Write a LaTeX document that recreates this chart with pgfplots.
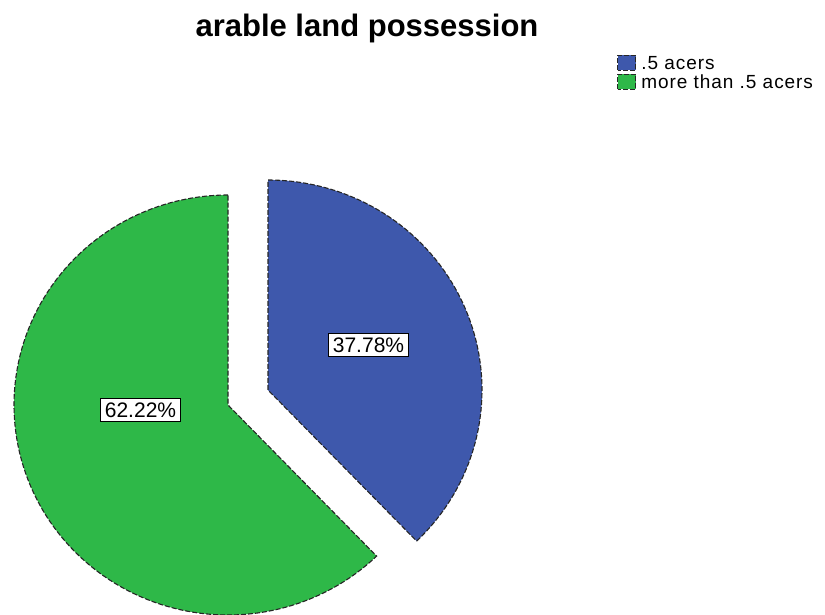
\documentclass[border=0pt]{standalone}
\usepackage{pgfplots}
\pgfplotsset{compat=1.18}
\usepackage{pgfplotstable}
\usepackage{fontspec}
\setmainfont{Liberation Sans}
\newfontfamily\legfont[LetterSpace=5]{Liberation Sans}
\definecolor{sliceblue}{RGB}{62,88,172}
\definecolor{slicegreen}{RGB}{46,184,72}

\pgfplotstableread{
label value
a 37.78
b 62.22
}\piedata
\pgfplotstablegetelem{0}{value}\of\piedata \edef\va{\pgfplotsretval}
\pgfplotstablegetelem{1}{value}\of\piedata \edef\vb{\pgfplotsretval}
\pgfmathsetmacro{\aend}{90-3.6*\va}
\pgfmathsetmacro{\gend}{90+3.6*\vb}

\begin{document}
\begin{tikzpicture}
\begin{axis}[
  scale only axis, width=825bp, height=615bp,
  xmin=0, xmax=825, ymin=0, ymax=615, y dir=reverse,
  hide axis, clip=false,
  legend style={at={(0.7479,0.9122)}, anchor=north west, draw=none, fill=none,
    font=\legfont\fontsize{19bp}{19bp}\selectfont, row sep=0bp, inner sep=0pt,
    cells={anchor=west}},
  legend image code/.code={\draw[#1] (0bp,-7bp) rectangle (18bp,8bp); \path (21bp,0bp);},
]
\addplot[fill=sliceblue, draw=black!85, line width=1.1bp, dash pattern=on 5bp off 2bp,
  domain=\aend:90, samples=181, variable=\t]
  ({268+214*cos(\t)}, {390-210*sin(\t)}) -- (axis cs:268,390) -- cycle;
\addlegendentry{.5 acers}
\addplot[fill=slicegreen, draw=black!85, line width=1.1bp, dash pattern=on 5bp off 2bp,
  domain=90:\gend, samples=181, variable=\t]
  ({228+214*cos(\t)}, {405-210*sin(\t)}) -- (axis cs:228,405) -- cycle;
\addlegendentry{more than .5 acers}

\node[font=\fontsize{31bp}{34bp}\selectfont\bfseries] at (axis cs:367,28) {arable land possession};
\node[draw=black, fill=white, line width=1bp, inner sep=4bp, font=\fontsize{21bp}{22bp}\selectfont]
  at (axis cs:368.5,345) {37.78\%};
\node[draw=black, fill=white, line width=1bp, inner sep=4bp, font=\fontsize{21bp}{22bp}\selectfont]
  at (axis cs:140.5,410) {62.22\%};
\end{axis}
\pgfresetboundingbox
\path (current axis.south west) rectangle (current axis.north east);
\end{tikzpicture}
\end{document}
